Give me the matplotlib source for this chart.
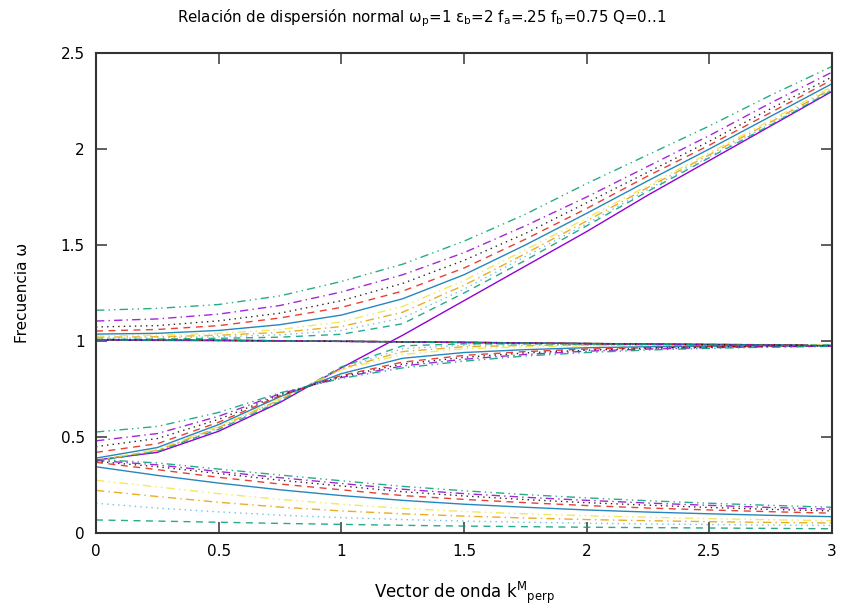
import numpy as np
import matplotlib
matplotlib.use("Agg")
import matplotlib.pyplot as plt

# wave-vector grid the branches were read on
K = [0, 0.25, 0.5, 0.75, 1.0, 1.25, 1.5, 1.75, 2.0, 2.25, 2.5, 2.75, 3.0]
K_FLAT = [0, 0.5, 1.0, 1.5, 2.0, 2.5, 2.9]

# Q = 0 (purple solid): bare light line + flat resonance
Q0_LIGHT = [0.38, 0.42, 0.53, 0.68, 0.86, 1.03, 1.21, 1.39, 1.57, 1.76, 1.94, 2.12, 2.30]
Q0_FLAT = [1.004, 1.002, 0.998, 0.993, 0.987, 0.982, 0.979]

# Q = 0.1 .. 0.9, lower branch (decreasing)
LOWER = [
    [0.068, 0.062, 0.056, 0.050, 0.045, 0.040, 0.036, 0.033, 0.030, 0.028, 0.026, 0.024, 0.022],
    [0.155, 0.130, 0.110, 0.093, 0.080, 0.070, 0.062, 0.056, 0.051, 0.047, 0.044, 0.041, 0.039],
    [0.222, 0.190, 0.160, 0.135, 0.115, 0.100, 0.088, 0.078, 0.070, 0.064, 0.059, 0.055, 0.052],
    [0.275, 0.240, 0.205, 0.175, 0.150, 0.128, 0.112, 0.100, 0.090, 0.082, 0.075, 0.069, 0.064],
    [0.345, 0.300, 0.260, 0.225, 0.195, 0.170, 0.150, 0.134, 0.120, 0.109, 0.100, 0.092, 0.085],
    [0.368, 0.330, 0.290, 0.255, 0.225, 0.195, 0.175, 0.158, 0.143, 0.130, 0.120, 0.111, 0.103],
    [0.373, 0.345, 0.310, 0.275, 0.245, 0.215, 0.193, 0.174, 0.158, 0.145, 0.133, 0.123, 0.115],
    [0.378, 0.355, 0.320, 0.288, 0.258, 0.228, 0.205, 0.186, 0.170, 0.156, 0.144, 0.133, 0.124],
    [0.383, 0.365, 0.333, 0.302, 0.272, 0.243, 0.220, 0.200, 0.183, 0.168, 0.155, 0.144, 0.134],
]

# middle branch (rising towards the resonance)
MIDDLE = [
    [0.375, 0.425, 0.540, 0.685, 0.865, 0.975, 0.985, 0.985, 0.984, 0.983, 0.982, 0.981, 0.980],
    [0.376, 0.428, 0.545, 0.690, 0.860, 0.960, 0.978, 0.982, 0.982, 0.981, 0.980, 0.980, 0.979],
    [0.377, 0.431, 0.550, 0.695, 0.855, 0.945, 0.970, 0.977, 0.979, 0.979, 0.979, 0.978, 0.978],
    [0.378, 0.435, 0.555, 0.700, 0.850, 0.930, 0.960, 0.970, 0.975, 0.977, 0.977, 0.977, 0.977],
    [0.390, 0.445, 0.565, 0.710, 0.830, 0.910, 0.940, 0.955, 0.965, 0.970, 0.973, 0.975, 0.976],
    [0.420, 0.465, 0.577, 0.715, 0.820, 0.890, 0.925, 0.945, 0.958, 0.965, 0.970, 0.973, 0.975],
    [0.450, 0.492, 0.592, 0.720, 0.815, 0.880, 0.915, 0.938, 0.952, 0.962, 0.968, 0.972, 0.974],
    [0.480, 0.518, 0.608, 0.725, 0.810, 0.870, 0.905, 0.930, 0.947, 0.958, 0.965, 0.970, 0.973],
    [0.526, 0.555, 0.628, 0.730, 0.805, 0.860, 0.895, 0.922, 0.940, 0.953, 0.962, 0.968, 0.972],
]

# flat branch near omega = 1
FLAT = [
    [1.008, 1.004, 0.999, 0.993, 0.987, 0.982, 0.979],
    [1.008, 1.004, 0.999, 0.993, 0.987, 0.982, 0.979],
    [1.008, 1.004, 0.999, 0.993, 0.987, 0.982, 0.979],
    [1.008, 1.004, 0.999, 0.993, 0.987, 0.982, 0.979],
    [1.007, 1.004, 0.999, 0.993, 0.987, 0.982, 0.978],
    [1.007, 1.004, 0.999, 0.993, 0.987, 0.981, 0.978],
    [1.007, 1.003, 0.998, 0.992, 0.986, 0.981, 0.978],
    [1.006, 1.003, 0.998, 0.992, 0.986, 0.980, 0.977],
    [1.006, 1.003, 0.998, 0.992, 0.985, 0.980, 0.976],
]

# upper branch
UPPER = [
    [1.008, 1.010, 1.014, 1.020, 1.035, 1.090, 1.250, 1.420, 1.600, 1.780, 1.955, 2.125, 2.305],
    [1.014, 1.016, 1.022, 1.032, 1.055, 1.120, 1.270, 1.440, 1.610, 1.790, 1.960, 2.130, 2.310],
    [1.020, 1.022, 1.030, 1.045, 1.075, 1.150, 1.290, 1.455, 1.625, 1.800, 1.970, 2.140, 2.315],
    [1.026, 1.030, 1.040, 1.060, 1.100, 1.180, 1.315, 1.475, 1.640, 1.810, 1.980, 2.150, 2.325],
    [1.036, 1.040, 1.055, 1.085, 1.135, 1.220, 1.345, 1.500, 1.665, 1.835, 2.000, 2.170, 2.340],
    [1.052, 1.060, 1.080, 1.120, 1.175, 1.260, 1.380, 1.530, 1.690, 1.860, 2.020, 2.190, 2.360],
    [1.073, 1.080, 1.105, 1.145, 1.210, 1.300, 1.420, 1.560, 1.720, 1.880, 2.040, 2.210, 2.375],
    [1.104, 1.115, 1.140, 1.185, 1.255, 1.345, 1.460, 1.600, 1.750, 1.910, 2.070, 2.240, 2.400],
    [1.160, 1.170, 1.190, 1.235, 1.310, 1.400, 1.520, 1.660, 1.820, 1.970, 2.120, 2.280, 2.430],
]

# gnuplot default line types 2..10
COLORS = ["#009e73", "#56b4e9", "#e69f00", "#f0e442", "#0072b2",
          "#e51e10", "#000000", "#9400d3", "#009e73"]
DASHES = [(0, (5, 4)), (0, (1, 3)), (0, (6, 3, 1, 3)), (0, (6, 3, 1, 3, 1, 3)),
          "-", (0, (5, 4)), (0, (1, 3)), (0, (6, 3, 1, 3)), (0, (6, 3, 1, 3, 1, 3))]

fig = plt.figure(figsize=(8.43, 6.13), dpi=100)
ax = fig.add_axes([96 / 843, 1 - 533 / 613, 736 / 843, 480 / 613])

lw = 1.0
ax.plot(K, Q0_LIGHT, color="#9400d3", lw=lw)
ax.plot(K_FLAT, Q0_FLAT, color="#9400d3", lw=lw)
for i in range(len(COLORS)):
    kw = dict(color=COLORS[i], linestyle=DASHES[i], lw=lw, alpha=0.85)
    ax.plot(K, LOWER[i], **kw)
    ax.plot(K, MIDDLE[i], **kw)
    ax.plot(K_FLAT, FLAT[i], **kw)
    ax.plot(K, UPPER[i], **kw)

ax.set_xlim(0, 3)
ax.set_ylim(0, 2.5)
ax.set_xticks(np.arange(0, 3.01, 0.5))
ax.set_yticks(np.arange(0, 2.51, 0.5))
ax.set_xticklabels(["0", "0.5", "1", "1.5", "2", "2.5", "3"])
ax.set_yticklabels(["0", "0.5", "1", "1.5", "2", "2.5"])
ax.tick_params(direction="in", length=8, width=1.2, color="#444444",
               top=True, right=True, labelsize=11, pad=8)
for s in ax.spines.values():
    s.set_linewidth(1.5)
    s.set_color("#333333")

fig.text(0.5, 1 - 18 / 613,
         "Relación de dispersión normal ω$_\\mathrm{p}$=1 ε$_\\mathrm{b}$=2 "
         "f$_\\mathrm{a}$=.25 f$_\\mathrm{b}$=0.75 Q=0..1",
         fontsize=10.8, ha="center", va="center")
ax.set_xlabel("Vector de onda k$^{\\mathrm{M}}{}_{\\mathrm{perp}}$", fontsize=12, labelpad=15)
ax.set_ylabel("Frecuencia ω", fontsize=11, labelpad=22)

fig.savefig("out.png", dpi=100)
